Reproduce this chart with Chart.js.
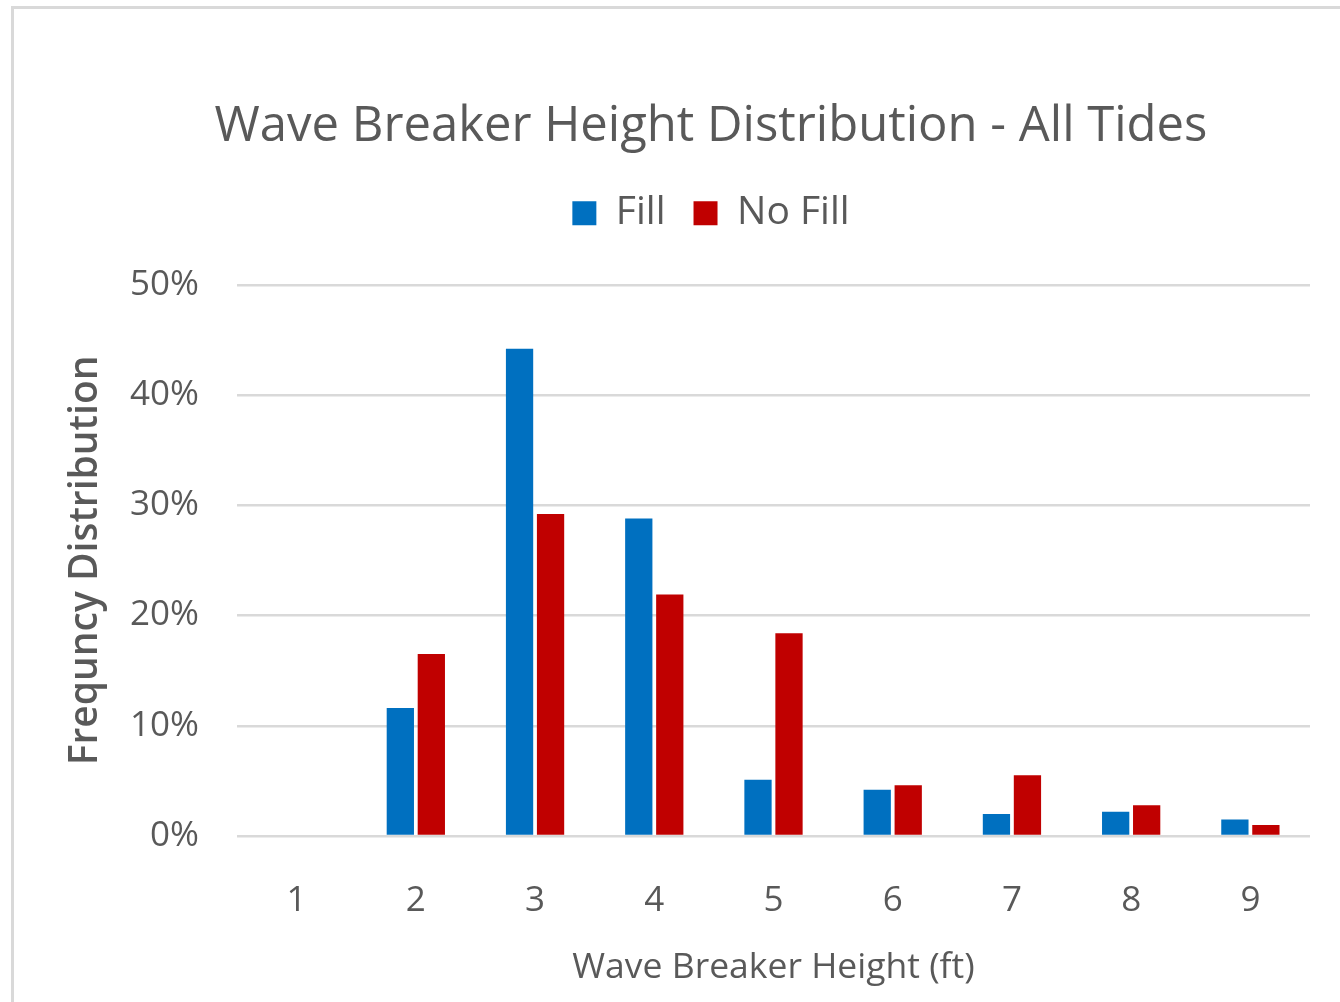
<!DOCTYPE html>
<html>
<head>
<meta charset="utf-8">
<script src="https://cdn.jsdelivr.net/npm/chart.js@4.4.1/dist/chart.umd.min.js"></script>
<style>
  body { margin: 0; background: #fff; }
  #frame {
    position: absolute; left: 11px; top: 6px; width: 1340px; height: 1002px;
    border-top: 3px solid #d9d9d9; border-left: 3px solid #d9d9d9;
  }
  #wrap { position: absolute; left: 0; top: 0; width: 1340px; height: 1002px; }
</style>
</head>
<body>
<div id="frame"></div>
<div id="wrap"><canvas id="myBarChart"></canvas></div>
<script>
var heights = ['1', '2', '3', '4', '5', '6', '7', '8', '9'];
var fillValues = [0, 11.6, 44.2, 28.8, 5.1, 4.2, 2.0, 2.2, 1.5];
var noFillValues = [0, 16.5, 29.2, 21.9, 18.4, 4.6, 5.5, 2.8, 1.0];
var yTicks = [0, 10, 20, 30, 40, 50];

var fontName = "'Open Sans', sans-serif";
var grey = '#595959';

var data = {
  labels: heights,
  datasets: [{
    label: 'Fill',
    data: fillValues,
    backgroundColor: '#0070c0',
    categoryPercentage: 0.52,
    barPercentage: 0.88
  }, {
    label: 'No Fill',
    data: noFillValues,
    backgroundColor: '#c00000',
    categoryPercentage: 0.52,
    barPercentage: 0.88
  }]
};

// push the plot area down below the legend
var legendGap = {
  id: 'legendGap',
  beforeInit: function (chart) {
    var fit = chart.legend.fit;
    chart.legend.fit = function () {
      fit.bind(chart.legend)();
      this.height += 42;
    };
  }
};

var options = {
  responsive: true,
  maintainAspectRatio: false,
  animation: false,
  // left padding keeps the title centred where the original has it
  layout: { padding: { top: 98, left: 112, right: 30, bottom: 0 } },
  scales: {
    x: {
      grid: { display: false },
      border: { display: false },
      ticks: { color: grey, font: { family: fontName, size: 35 }, padding: 36 },
      title: {
        display: true, text: 'Wave Breaker Height (ft)', color: grey,
        font: { family: fontName, size: 35.5 }, padding: { top: 0, bottom: 13 }
      },
      afterFit: function (scale) { scale.height = 166; }
    },
    y: {
      min: 0, max: 50,
      afterBuildTicks: function (scale) {
        scale.ticks = yTicks.map(function (v) { return { value: v }; });
      },
      grid: { color: '#d9d9d9', lineWidth: 2.5, drawTicks: false },
      border: { display: false },
      ticks: {
        color: grey, font: { family: fontName, size: 35 }, padding: 38,
        callback: function (v) { return v + '%'; }
      },
      title: {
        display: true, text: 'Frequncy Distribution', color: grey,
        font: { family: fontName, size: 39, weight: '600' }, padding: { top: -50, bottom: 0 }
      },
      afterFit: function (scale) { scale.width = 125; }
    }
  },
  plugins: {
    title: {
      display: true, text: 'Wave Breaker Height Distribution - All Tides', color: grey,
      font: { family: fontName, size: 49, weight: 'normal' }, padding: { top: 0, bottom: 9 }
    },
    legend: {
      display: true, position: 'top',
      labels: { color: grey, font: { family: fontName, size: 39 }, boxWidth: 24, boxHeight: 24, padding: 28 }
    },
    tooltip: { enabled: false }
  }
};

var ctx = document.getElementById('myBarChart').getContext('2d');
var myBarChart = new Chart(ctx, {
  type: 'bar',
  data: data,
  options: options,
  plugins: [legendGap]
});
</script>
</body>
</html>
